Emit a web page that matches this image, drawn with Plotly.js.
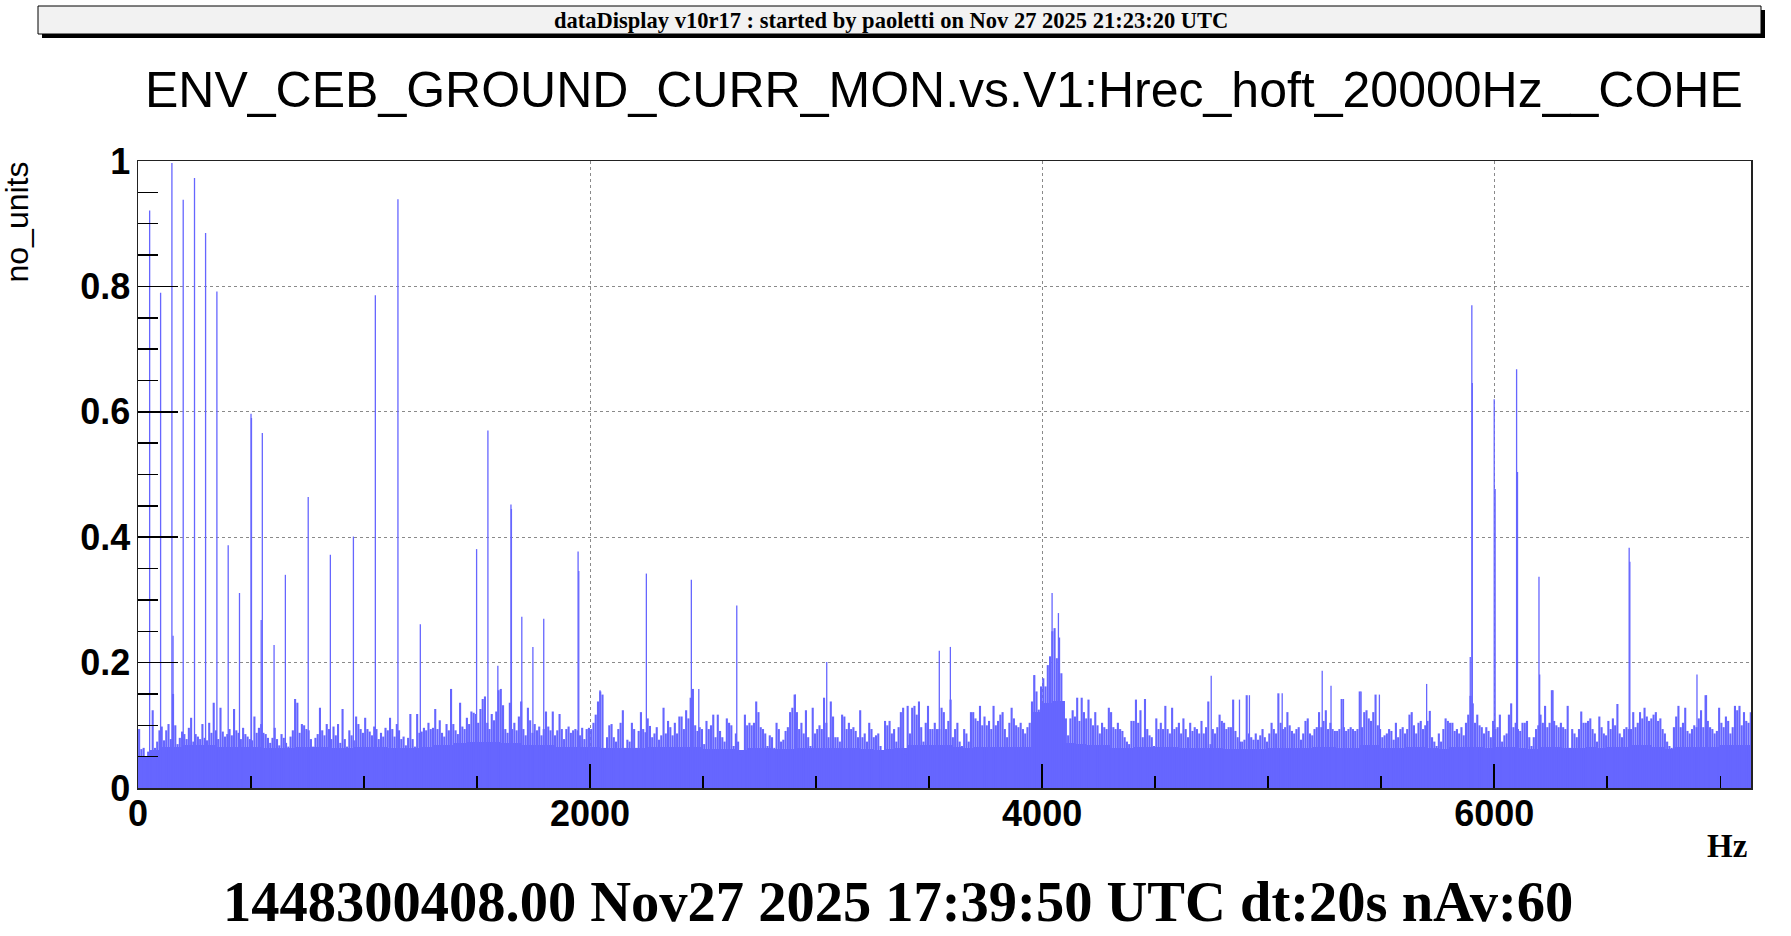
<!DOCTYPE html>
<html>
<head>
<meta charset="utf-8">
<script src="https://cdn.plot.ly/plotly-3.0.1.min.js"></script>
<style>html,body{margin:0;padding:0;background:#fff;}#chart{width:1791px;height:936px;}</style>
</head>
<body>
<div id="chart"></div>
<script>
// ---------------- DATA ----------------
const bannerText = "dataDisplay v10r17 : started by paoletti on Nov 27 2025 21:23:20 UTC";
const chartTitle = "ENV_CEB_GROUND_CURR_MON.vs.V1:Hrec_hoft_20000Hz__COHE";
const footerText = "1448300408.00 Nov27 2025 17:39:50 UTC dt:20s nAv:60";
const xAxisLabel = "Hz";
const yAxisLabel = "no_units";
const xTickVals = [0, 2000, 4000, 6000];
const xTickText = ["0", "2000", "4000", "6000"];
const yTickVals = [0, 0.2, 0.4, 0.6, 0.8, 1];
const yTickText = ["0", "0.2", "0.4", "0.6", "0.8", "1"];
const freqMax = 7136;

// solid noise floor, one value per 50 Hz band starting at 0 Hz (thousandths)
const floorStep = 50;
const floorMilli = [
 50,60,66,66,68,68,68,66,66,66, 66,64,64,64,66,66,66,64,64,66,
 66,66,64,64,64,66,68,68,72,74, 74,74,72,72,68,68,68,66,66,66,
 66,64,64,64,64,66,66,66,66,66, 62,62,62,60,64,64,62,62,64,64,
 64,64,64,64,62,60,62,64,68,68, 68,68,66,64,66,66,66,66,66,122,
 136,138,72,70,68,68,64,64,66,66, 66,66,64,64,64,64,62,62,62,62,
 64,64,64,64,66,66,64,64,68,68, 64,64,66,66,64,62,66,66,66,64,
 66,66,64,62,66,66,64,64,66,64, 66,66,68,68,66,62,66,66,66,66,
 68,68,68
];

// noise spectrum, one value per 10 Hz bin starting at 0 Hz (thousandths)
const noiseStep = 10;
const noiseMilli = [
 94,62,64,44,58,47,124,64,74,92,
 98,76,92,102,78,150,100,70,80,90,
 86,78,96,112,74,86,82,78,102,80,
 76,104,88,136,92,78,128,90,82,86,
 94,84,126,92,88,78,96,86,82,78,
 76,114,88,96,102,88,86,80,72,80,
 96,78,68,86,80,72,66,82,92,142,
 136,88,102,100,94,92,78,66,80,86,
 128,92,84,102,94,78,98,84,102,72,
 126,78,66,92,84,76,114,102,94,88,
 112,94,90,84,98,94,78,88,82,96,
 92,112,94,82,102,92,78,82,68,80,
 118,78,66,118,88,90,96,92,104,94,
 96,126,94,108,88,82,102,92,158,102,
 92,86,136,98,94,112,102,122,120,118,
 104,126,142,146,104,94,118,108,122,156,
 158,132,94,88,136,94,104,92,114,138,
 94,84,128,108,88,102,92,98,84,94,
 122,98,92,122,84,92,118,94,78,94,
 98,88,92,94,92,84,96,78,94,96,
 94,104,117,138,154,149,64,81,100,102,
 81,74,94,104,124,64,77,74,104,94,
 64,91,121,94,89,111,99,81,87,97,
 77,84,128,87,107,97,84,104,87,114,
 114,94,124,111,144,158,100,91,97,94,
 70,107,94,100,117,81,117,91,81,74,
 111,104,100,67,87,74,54,50,117,100,
 104,100,104,138,121,97,94,87,67,84,
 81,64,104,94,74,77,91,97,121,128,
 149,121,94,104,87,124,81,67,128,87,
 94,100,94,144,104,81,138,114,81,81,
 74,117,114,94,104,94,97,91,81,124,
 81,87,74,104,94,81,84,87,67,60,
 107,100,107,87,94,74,97,121,128,54,
 131,87,128,131,117,138,97,74,104,131,
 94,94,104,94,94,128,121,94,107,141,
 81,94,104,74,67,94,87,74,121,121,
 111,107,131,100,114,100,107,94,131,100,
 107,117,121,94,81,104,128,111,100,97,
 104,94,87,97,104,138,180,154,125,162,
 175,162,196,210,250,255,207,240,183,120,
 111,84,111,124,114,144,107,144,121,111,
 141,111,100,121,100,87,104,97,94,128,
 121,97,94,104,94,91,81,74,70,107,
 107,141,104,124,81,142,94,84,81,67,
 111,94,104,94,131,94,87,128,94,97,
 104,87,111,94,81,104,91,97,94,87,
 107,87,97,138,70,94,87,97,117,107,
 104,94,97,97,141,91,81,74,74,77,
 148,87,81,77,87,77,84,94,81,74,
 87,104,94,87,151,104,94,97,121,100,
 91,87,94,97,77,87,107,111,87,84,
 94,97,121,97,107,124,94,104,94,91,
 91,94,142,97,91,94,97,94,91,94,
 154,97,121,124,111,107,121,149,100,94,
 81,84,87,94,91,77,104,81,94,97,
 87,94,117,121,100,87,104,107,94,100,
 107,123,81,74,67,87,74,94,111,107,
 104,104,91,94,87,97,84,104,117,147,
 135,104,117,100,97,87,97,91,81,107,
 94,97,117,74,84,87,117,135,97,104,
 94,91,104,104,107,81,67,81,94,100,
 117,104,131,97,104,156,107,100,97,104,
 97,94,131,64,94,87,81,94,122,104,
 104,107,111,94,87,74,114,97,87,84,
 107,94,111,100,134,87,81,94,97,94,
 94,121,97,104,121,111,128,114,107,111,
 117,121,107,111,94,87,74,67,64,97,
 114,131,97,104,128,91,87,94,100,97,
 111,124,97,148,107,97,94,87,91,128,
 104,97,114,107,87,97,131,124,131,100,
 121,107,104,121
];

// narrow spectral lines (Hz, coherence)
const peakFreq = [51.5,100,150,155,200,250,299,349,399,449,500,502,545,550,602,652,753,851,953,1050,1150,1249,1498,1548,1592,1650,1652,1698,1747,1795,1947,1950,
 2044,2249,2448,2481,2649,2908,3047,3545,3594,3966,4044,4072,
 4748,4873,4917,5062,5239,5278,5333,5411,5492,5701,5894,5901,5903,6000,6004,6099,6103,6198,6201,6260,6597,6600,6897,6939];
const peakVal = [0.921,0.790,0.997,0.243,0.938,0.973,0.885,0.792,0.387,0.311,0.597,0.590,0.268,0.566,0.228,0.340,0.464,0.372,0.401,0.786,0.939,0.261,0.381,0.570,0.195,0.452,0.445,0.273,0.225,0.270,0.377,0.346,
 0.156,0.342,0.332,0.158,0.291,0.149,0.201,0.219,0.225,0.180,0.311,0.279,
 0.179,0.141,0.148,0.151,0.187,0.163,0.142,0.154,0.149,0.166,0.209,0.770,0.646,0.620,0.477,0.668,0.504,0.337,0.181,0.156,0.383,0.361,0.181,0.148];

// ---------------- BUILD TRACES ----------------
const fillColor = "rgb(102,102,255)";
const floorX = floorMilli.map((v, i) => i * floorStep + floorStep / 2);
const floorY = floorMilli.map(v => v / 1000);

function stems(xs, ys) {
  const X = [], Y = [];
  for (let i = 0; i < xs.length; i++) { X.push(xs[i], xs[i], null); Y.push(0, ys[i], null); }
  return {X, Y};
}
const noiseStem = stems(noiseMilli.map((v, i) => i * noiseStep + noiseStep / 2), noiseMilli.map(v => v / 1000));
const peakStem = stems(peakFreq, peakVal);

const traces = [
  {type: "bar", x: floorX, y: floorY, width: floorStep, marker: {color: fillColor, line: {width: 0}}, hoverinfo: "skip"},
  {type: "scatter", mode: "lines", x: noiseStem.X, y: noiseStem.Y, line: {color: fillColor, width: 2.1}, hoverinfo: "skip", connectgaps: false},
  {type: "scatter", mode: "lines", x: peakStem.X, y: peakStem.Y, line: {color: fillColor, width: 1.3}, hoverinfo: "skip", connectgaps: false}
];

// ---------------- LAYOUT ----------------
const L = 138, R = 1751, T = 161, B = 788;
const px = x => (x - L) / (R - L);
const py = y => (B - y) / (B - T);

const tickFont = {family: "Liberation Sans, Arial, sans-serif", size: 36, color: "#000", weight: "bold"};
const layout = {
  width: 1791, height: 936,
  margin: {l: L, r: 1791 - R, t: T, b: 936 - B, pad: 0},
  paper_bgcolor: "#ffffff", plot_bgcolor: "#ffffff",
  showlegend: false, bargap: 0,
  xaxis: {
    range: [0, freqMax], tickvals: xTickVals, ticktext: xTickText,
    ticks: "inside", ticklen: 24, tickwidth: 1.5, tickcolor: "#000",
    minor: {dtick: 500, tick0: 0, ticks: "inside", ticklen: 12, tickwidth: 1.5, tickcolor: "#000", showgrid: false},
    showgrid: true, gridcolor: "#8a8a8a", griddash: "dot", gridwidth: 1,
    showline: true, mirror: true, linecolor: "#222", linewidth: 1.5, zeroline: false,
    tickfont: tickFont, ticklabelstandoff: -7
  },
  yaxis: {
    range: [0, 1], tickvals: yTickVals, ticktext: yTickText,
    ticks: "inside", ticklen: 40, tickwidth: 1.5, tickcolor: "#000",
    minor: {dtick: 0.05, tick0: 0, ticks: "inside", ticklen: 20, tickwidth: 1.5, tickcolor: "#000", showgrid: false},
    showgrid: true, gridcolor: "#8a8a8a", griddash: "dot", gridwidth: 1,
    showline: true, mirror: true, linecolor: "#222", linewidth: 1.5, zeroline: false,
    tickfont: tickFont, ticklabelstandoff: -1
  },
  shapes: [
    {type: "rect", xref: "paper", yref: "paper", x0: px(42), x1: px(1765), y0: py(38), y1: py(10), fillcolor: "#000", line: {width: 0}, layer: "above"},
    {type: "rect", xref: "paper", yref: "paper", x0: px(38), x1: px(1761), y0: py(34), y1: py(6), fillcolor: "#f2f2f2", line: {color: "#000", width: 1}, layer: "above"}
  ],
  annotations: [
    {text: bannerText, xref: "paper", yref: "paper", x: px(891), y: py(20), xanchor: "center", yanchor: "middle", showarrow: false,
     font: {family: "Liberation Serif, Times New Roman, serif", size: 22.5, color: "#000", weight: "bold"}},
    {text: chartTitle, xref: "paper", yref: "paper", x: px(944), y: py(90), xanchor: "center", yanchor: "middle", showarrow: false,
     font: {family: "Liberation Sans, Arial, sans-serif", size: 50, color: "#000"}},
    {text: yAxisLabel, xref: "paper", yref: "paper", x: px(17), y: py(160), xanchor: "center", yanchor: "top", textangle: -90, showarrow: false,
     font: {family: "Liberation Sans, Arial, sans-serif", size: 32, color: "#000"}},
    {text: xAxisLabel, xref: "paper", yref: "paper", x: px(1749), y: py(846), xanchor: "right", yanchor: "middle", showarrow: false,
     font: {family: "Liberation Serif, Times New Roman, serif", size: 33, color: "#000", weight: "bold"}},
    {text: footerText, xref: "paper", yref: "paper", x: px(898), y: py(902), xanchor: "center", yanchor: "middle", showarrow: false,
     font: {family: "Liberation Serif, Times New Roman, serif", size: 56.5, color: "#000", weight: "bold"}}
  ]
};

Plotly.newPlot("chart", traces, layout, {staticPlot: true, displayModeBar: false});
</script>
</body>
</html>
